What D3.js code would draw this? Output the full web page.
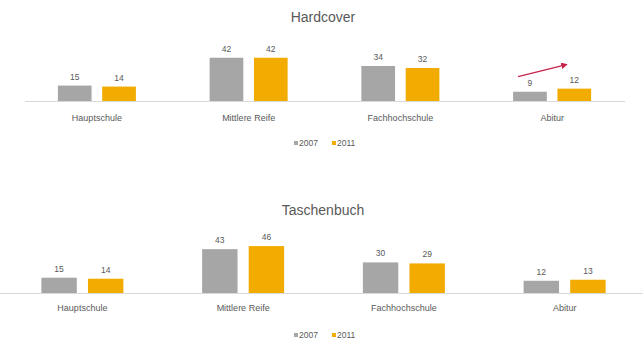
<!DOCTYPE html>
<html lang="de">
<head>
<meta charset="utf-8">
<title>Hardcover und Taschenbuch nach Schulabschluss</title>
<script src="https://cdn.jsdelivr.net/npm/d3@7"></script>
<style>
  html, body { margin: 0; padding: 0; background: #ffffff; }
  svg { display: block; font-family: "Liberation Sans", Arial, sans-serif; }
</style>
</head>
<body>
<svg id="chart" width="643" height="341"></svg>
<script>
// Schulabschlüsse (Kategorien) und Erhebungsjahre
const categories = ["Hauptschule", "Mittlere Reife", "Fachhochschule", "Abitur"];
const years = ["2007", "2011"];

// Anteile in Prozent, je Jahr
const hardcover2007 = [15, 42, 34, 9];
const hardcover2011 = [14, 42, 32, 12];
const taschenbuch2007 = [15, 43, 30, 12];
const taschenbuch2011 = [14, 46, 29, 13];

const colors = { "2007": "#a6a6a6", "2011": "#f2ab00" };
const textColor = "#595959";

const svg = d3.select("#chart");

// Pfeilspitze für die Trendmarkierung
svg.append("defs").append("marker")
  .attr("id", "arrowhead")
  .attr("viewBox", "0 0 10 10")
  .attr("refX", 8).attr("refY", 5)
  .attr("markerWidth", 5).attr("markerHeight", 5)
  .attr("orient", "auto")
  .append("path")
  .attr("d", "M0,0 L10,5 L0,10 Z")
  .attr("fill", "#c8234a");

const panels = [
  {
    title: "Hardcover", s2007: hardcover2007, s2011: hardcover2011,
    titleY: 22, x0: 21, x1: 628, baseY: 101, pxPerUnit: 1.03,
    groupWidth: 78, catY: 124, legendY: 146, axisX: [25, 625], arrow: true
  },
  {
    title: "Taschenbuch", s2007: taschenbuch2007, s2011: taschenbuch2011,
    titleY: 215, x0: 2, x1: 645, baseY: 293, pxPerUnit: 1.02,
    groupWidth: 82, catY: 314, legendY: 338, axisX: [0, 643], arrow: false
  }
];

panels.forEach(p => {
  const g = svg.append("g");
  const rows = categories.map((c, i) => ({ category: c, "2007": p.s2007[i], "2011": p.s2011[i] }));

  const x = d3.scaleBand().domain(categories).range([p.x0, p.x1]).padding(0);
  const xSub = d3.scaleBand().domain(years)
    .range([x.bandwidth() / 2 - p.groupWidth / 2, x.bandwidth() / 2 + p.groupWidth / 2])
    .paddingInner(0.24);
  const y = d3.scaleLinear().domain([0, 50]).range([p.baseY, p.baseY - 50 * p.pxPerUnit]);

  // Titel
  g.append("text")
    .attr("x", 323).attr("y", p.titleY)
    .attr("text-anchor", "middle")
    .attr("font-size", 14)
    .attr("fill", textColor)
    .text(p.title);

  // Balkengruppen
  const groups = g.selectAll(".grp").data(rows).join("g")
    .attr("class", "grp")
    .attr("transform", d => `translate(${x(d.category)},0)`);

  groups.selectAll("rect").data(d => years.map(yr => ({ year: yr, value: d[yr] }))).join("rect")
    .attr("x", d => xSub(d.year))
    .attr("width", xSub.bandwidth())
    .attr("y", d => y(d.value))
    .attr("height", d => y(0) - y(d.value))
    .attr("fill", d => colors[d.year]);

  // Wertbeschriftungen
  groups.selectAll("text.val").data(d => years.map(yr => ({ year: yr, value: d[yr] }))).join("text")
    .attr("class", "val")
    .attr("x", d => xSub(d.year) + xSub.bandwidth() / 2)
    .attr("y", d => y(d.value) - 6)
    .attr("text-anchor", "middle")
    .attr("font-size", 8.5)
    .attr("fill", textColor)
    .text(d => d.value);

  // Grundlinie
  g.append("line")
    .attr("x1", p.axisX[0]).attr("x2", p.axisX[1])
    .attr("y1", y(0) + 0.5).attr("y2", y(0) + 0.5)
    .attr("stroke", "#d9d9d9").attr("stroke-width", 1);

  // Kategorienachse
  const axis = g.append("g")
    .attr("transform", `translate(0,${p.catY - 9})`)
    .call(d3.axisBottom(x).tickSize(0).tickPadding(0));
  axis.select(".domain").remove();
  axis.selectAll("text")
    .attr("dy", "0.71em")
    .attr("font-size", 9)
    .attr("font-family", "Liberation Sans, Arial, sans-serif")
    .attr("fill", textColor);

  // Legende
  const legend = g.append("g").attr("transform", `translate(294,${p.legendY})`);
  let lx = 0;
  years.forEach(yr => {
    legend.append("rect")
      .attr("x", lx).attr("y", -5)
      .attr("width", 4).attr("height", 4)
      .attr("fill", colors[yr]);
    const t = legend.append("text")
      .attr("x", lx + 5).attr("y", 0)
      .attr("font-size", 8.5)
      .attr("fill", textColor)
      .text(yr);
    lx += 5 + t.node().getComputedTextLength() + 14;
  });

  // Trendpfeil bei Abitur
  if (p.arrow) {
    const i = categories.indexOf("Abitur");
    const gx = x("Abitur");
    const xStart = gx + xSub("2007") + 5;
    const yStart = y(p.s2007[i]) - 15;
    const xEnd = gx + xSub("2011") + 9;
    const yEnd = y(p.s2011[i]) - 24;
    g.append("line")
      .attr("x1", xStart).attr("y1", yStart)
      .attr("x2", xEnd).attr("y2", yEnd)
      .attr("stroke", "#c8234a").attr("stroke-width", 1.3)
      .attr("marker-end", "url(#arrowhead)");
  }
});
</script>
</body>
</html>
